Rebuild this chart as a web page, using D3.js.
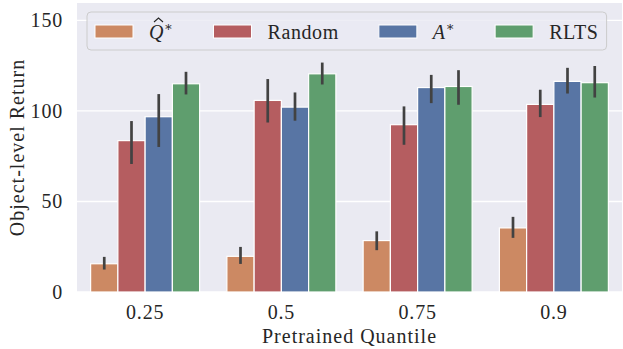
<!DOCTYPE html>
<html lang="en">
	<head>
		<meta charset="utf-8">
		<title>Object-level Return</title>
		<script src="https://d3js.org/d3.v7.min.js"></script>
		<style type="text/css">
			body { margin: 0; background: #fff; }
			text { font-family: "Liberation Serif", "DejaVu Serif", serif; fill: #262626; }
		</style>
	</head>
	<body>
		<svg></svg>
		<script type="text/javascript">

			// data
			var quantiles = ["0.25", "0.5", "0.75", "0.9"];
			var methods = ["Q", "Random", "A", "RLTS"];
			var colors = ["#CC8963", "#B55D60", "#5875A4", "#5F9E6E"];
			// mean per method, one entry per quantile
			var qhatMean   = [15.6, 19.7, 28.4, 35.4];
			var randomMean = [83.6, 105.8, 92.4, 103.6];
			var astarMean  = [96.8, 102.1, 112.9, 116.3];
			var rltsMean   = [115.0, 120.5, 113.5, 115.6];
			// error bar low / high
			var qhatLo   = [12.4, 15.5, 23.1, 29.9],  qhatHi   = [19.4, 24.9, 33.5, 41.5];
			var randomLo = [70.7, 93.6, 81.3, 96.6],  randomHi = [94.4, 117.6, 102.5, 111.7];
			var astarLo  = [80.1, 94.6, 104.3, 109.6], astarHi = [109.3, 110.2, 119.9, 123.8];
			var rltsLo   = [109.1, 114.6, 103.4, 107.4], rltsHi = [121.6, 126.7, 122.5, 124.8];
			var yTicks = [0, 50, 100, 150];

			var means = [qhatMean, randomMean, astarMean, rltsMean];
			var lows = [qhatLo, randomLo, astarLo, rltsLo];
			var highs = [qhatHi, randomHi, astarHi, rltsHi];

			var w = 623, h = 349;
			var margin = {top: 3, right: 1, bottom: 57, left: 77};

			var svg = d3.select("svg").attr("width", w).attr("height", h);

			var x = d3.scaleBand().domain(quantiles).range([margin.left, w - margin.right]);
			var xm = d3.scaleBand().domain(methods).range([0, x.bandwidth() * 0.8]);
			var y = d3.scaleLinear().domain([0, 159.6]).range([h - margin.bottom, margin.top]);

			// background
			svg.append("rect")
				.attr("x", margin.left).attr("y", margin.top)
				.attr("width", w - margin.right - margin.left)
				.attr("height", h - margin.bottom - margin.top)
				.attr("fill", "#EAEAF2");

			// horizontal grid only
			svg.selectAll(".grid")
				.data(yTicks).enter()
				.append("line")
				.attr("x1", margin.left).attr("x2", w - margin.right)
				.attr("y1", d => y(d)).attr("y2", d => y(d))
				.attr("stroke", "#fff").attr("stroke-width", 1.4);

			// bars
			var rows = [];
			methods.forEach((m, j) => quantiles.forEach((q, i) => rows.push({q: q, m: m, j: j, v: means[j][i], lo: lows[j][i], hi: highs[j][i]})));
			var off = x.bandwidth() * 0.1;

			svg.selectAll(".bar")
				.data(rows).enter()
				.append("rect")
				.attr("x", d => x(d.q) + off + xm(d.m))
				.attr("y", d => y(d.v))
				.attr("width", xm.bandwidth())
				.attr("height", d => y(0) - y(d.v))
				.attr("fill", d => colors[d.j])
				.attr("stroke", "#fff").attr("stroke-width", 1.2);

			svg.selectAll(".err")
				.data(rows).enter()
				.append("line")
				.attr("x1", d => x(d.q) + off + xm(d.m) + xm.bandwidth() / 2)
				.attr("x2", d => x(d.q) + off + xm(d.m) + xm.bandwidth() / 2)
				.attr("y1", d => y(d.lo)).attr("y2", d => y(d.hi))
				.attr("stroke", "#424242").attr("stroke-width", 2.7);

			// axes (labels only, no spines)
			var yAxis = svg.append("g")
				.attr("transform", `translate(${margin.left},0)`)
				.call(d3.axisLeft(y).tickValues(yTicks).tickSize(0).tickPadding(14));
			var xAxis = svg.append("g")
				.attr("transform", `translate(0,${h - margin.bottom})`)
				.call(d3.axisBottom(x).tickSize(0).tickPadding(13));
			[yAxis, xAxis].forEach(a => {
				a.select(".domain").remove();
				a.selectAll("text").attr("font-size", 20).attr("font-family", null)
					.attr("letter-spacing", 0.8).attr("fill", "#262626");
			});

			svg.append("text")
				.attr("x", (margin.left + w - margin.right) / 2)
				.attr("y", 343)
				.attr("text-anchor", "middle")
				.attr("font-size", 20)
				.attr("letter-spacing", 1)
				.text("Pretrained Quantile");

			svg.append("text")
				.attr("transform", `translate(24,${(margin.top + h - margin.bottom) / 2}) rotate(-90)`)
				.attr("text-anchor", "middle")
				.attr("font-size", 20)
				.attr("letter-spacing", 1)
				.text("Object-level Return");

			// legend
			var legend = svg.append("g");
			var box = legend.append("rect")
				.attr("y", 12).attr("height", 38)
				.attr("rx", 4)
				.attr("fill", "#EAEAF2").attr("fill-opacity", 0.8)
				.attr("stroke", "#cccccc").attr("stroke-width", 1);

			var lx = 95;
			methods.forEach((m, j) => {
				legend.append("rect")
					.attr("x", lx).attr("y", 25).attr("width", 38).attr("height", 13)
					.attr("fill", colors[j]).attr("stroke", "#fff").attr("stroke-width", 1);
				var t = legend.append("text")
					.attr("x", lx + 54).attr("y", 39)
					.attr("font-size", 20)
					.attr("letter-spacing", 0.6);
				if (m === "Q") {
					t.append("tspan").attr("font-style", "italic").text("Q");
					t.append("tspan").attr("font-size", 13).attr("dy", -8).text("∗");
					// hat over Q
					legend.append("path")
						.attr("d", `M${lx + 59},${22} L${lx + 63.5},${18} L${lx + 68},${22}`)
						.attr("fill", "none").attr("stroke", "#262626").attr("stroke-width", 1.1);
				} else if (m === "A") {
					t.append("tspan").attr("font-style", "italic").text("A");
					t.append("tspan").attr("font-size", 13).attr("dy", -8).text("∗");
				} else {
					t.text(m);
				}
				lx = lx + 54 + t.node().getComputedTextLength() + 40;
			});
			box.attr("x", 87).attr("width", lx - 40 + 8 - 87);

		</script>
	</body>
</html>
